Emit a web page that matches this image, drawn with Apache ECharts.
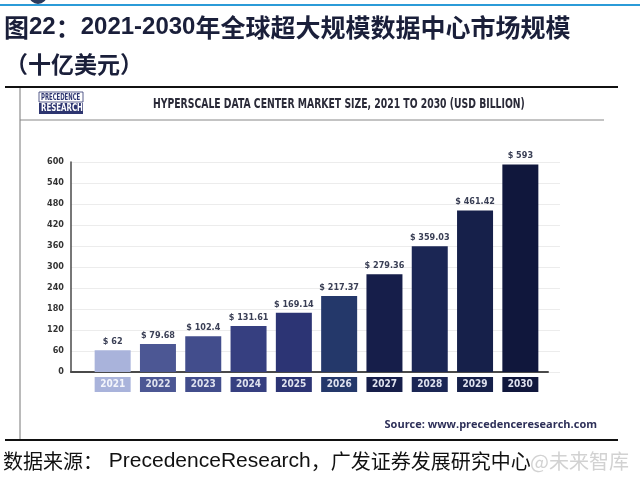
<!DOCTYPE html>
<html><head><meta charset="utf-8">
<script src="https://cdn.jsdelivr.net/npm/echarts@6/dist/echarts.min.js"></script>
<style>html,body{margin:0;padding:0;background:#fff}#c{width:640px;height:485px}</style>
</head><body><div id="c"></div>
<script>
const years = ['2021','2022','2023','2024','2025','2026','2027','2028','2029','2030'];
const values = [62, 79.68, 102.4, 131.61, 169.14, 217.37, 279.36, 359.03, 461.42, 593];
const barColors = ['#a9b3db','#4c5794','#424d8c','#363f80','#2c3474','#24386a','#161e4a','#1b2654','#16204a','#10173c'];
const yMin = 0, yMax = 600, yStep = 60;

const cond = "'DejaVu Sans Condensed',sans-serif";
const cjk = "'Noto Sans CJK SC', sans-serif";
const chart = echarts.init(document.getElementById('c'), null, {renderer:'canvas'});
const rich = {};
years.forEach((y,i)=>{ rich['c'+i] = {backgroundColor: barColors[i], width:36, height:15, lineHeight:15, align:'center', color: i===0 ? '#f4f5fb' : '#dfe2ef', fontSize:10, fontWeight:'bold', fontFamily:cond}; });

chart.setOption({
  animation:false,
  grid:[
    {left:71, right:80, top:162, bottom:113},
    {left:90, right:97, top:162, bottom:113},
    {left:71, right:92, top:162, bottom:113}
  ],
  xAxis:[
    {gridIndex:0, type:'value', show:false},
    {gridIndex:1, type:'category', data:years, axisLine:{show:false}, axisTick:{show:false},
     axisLabel:{margin:5, interval:0, formatter:(v,i)=>'{c'+i+'|'+v+'}', rich:rich}},
    {gridIndex:2, type:'value', axisLine:{show:true, lineStyle:{color:'#4a4a4a', width:2}}, axisTick:{show:false}, axisLabel:{show:false}, splitLine:{show:false}}
  ],
  yAxis:[
    {gridIndex:0, type:'value', min:yMin, max:yMax, interval:yStep,
     axisLine:{show:true, lineStyle:{color:'#4a4a4a', width:1.5}}, axisTick:{show:false},
     axisLabel:{margin:7, color:'#333', fontSize:9, fontWeight:'bold', fontFamily:cond},
     splitLine:{show:true, lineStyle:{color:'#ececec', width:1}}},
    {gridIndex:1, type:'value', min:yMin, max:yMax, interval:yStep, show:false},
    {gridIndex:2, type:'value', min:yMin, max:yMax, show:false}
  ],
  series:[{
    type:'bar', xAxisIndex:1, yAxisIndex:1, barWidth:36,
    data: values.map((v,i)=>({value:v, itemStyle:{color:barColors[i]}})),
    label:{show:true, position:'top', distance:4, formatter:p=>'$ '+p.value, color:'#3a3f55', fontSize:9, fontWeight:'bold', fontFamily:cond}
  }],
  graphic:[
    {type:'circle', shape:{cx:38, cy:-5, r:9}, style:{fill:'#2c3a5c'}},
    {type:'line', shape:{x1:0,y1:5,x2:640,y2:5}, style:{stroke:'#2b9bd8', lineWidth:2}},
    {type:'text', x:4, y:27, style:{
      text:'{c|图}{l|22}{c|：}{l|2021-2030}{c|年全球超大规模数据中心市场规模}', verticalAlign:'middle',
      rich:{c:{font:"bold 25px "+cjk, fill:'#1a1f3a', lineHeight:30}, l:{font:"bold 24px 'Liberation Sans', sans-serif", fill:'#1a1f3a', lineHeight:30}}}},
    {type:'text', x:5, y:64, style:{text:'（十亿美元）', verticalAlign:'middle', font:"bold 23px "+cjk, fill:'#1a1f3a'}},
    {type:'line', shape:{x1:5,y1:87,x2:618,y2:87}, style:{stroke:'#111', lineWidth:2}},
    {type:'line', shape:{x1:20,y1:88,x2:20,y2:439}, style:{stroke:'#777', lineWidth:1}},
    {type:'line', shape:{x1:20,y1:120,x2:604,y2:120}, style:{stroke:'#888', lineWidth:1}},
    {type:'rect', shape:{x:39,y:92,width:44,height:10}, style:{fill:'#fff', stroke:'#2d3570', lineWidth:0.8}},
    {type:'text', x:41, y:97.5, scaleX:0.74, style:{text:'PRECEDENCE', align:'left', verticalAlign:'middle', font:"bold 8px "+cond, fill:'#2d3570'}},
    {type:'rect', shape:{x:39,y:103,width:44,height:11}, style:{fill:'#2d3570'}},
    {type:'text', x:41, y:108.5, scaleX:0.78, style:{text:'RESEARCH', align:'left', verticalAlign:'middle', font:"bold 10px "+cond, fill:'#fff'}},
    {type:'text', x:153, y:104, scaleX:0.736, style:{text:'HYPERSCALE DATA CENTER MARKET SIZE, 2021 TO 2030 (USD BILLION)', align:'left', verticalAlign:'middle', font:"bold 14px "+cond, fill:'#2a2a38'}},
    {type:'text', x:597, y:425, style:{text:'Source: www.precedenceresearch.com', align:'right', verticalAlign:'middle', font:"bold 11px 'Open Sans', sans-serif", fill:'#2d2f58'}},
    {type:'line', shape:{x1:5,y1:440,x2:618,y2:440}, style:{stroke:'#111', lineWidth:2}},
    {type:'text', x:3, y:461, style:{
      text:'{c|数据来源：}{l| PrecedenceResearch}{c|，广发证券发展研究中心}', verticalAlign:'middle',
      rich:{c:{font:"20px "+cjk, fill:'#111', lineHeight:26}, l:{font:"21px 'Liberation Sans', sans-serif", fill:'#111', lineHeight:26}}}},
    {type:'text', x:530, y:461, style:{text:'@未来智库', verticalAlign:'middle', font:"20px "+cjk, fill:'rgba(205,205,205,0.9)', stroke:'rgba(255,255,255,0.8)', lineWidth:2}}
  ]
});
</script></body></html>
